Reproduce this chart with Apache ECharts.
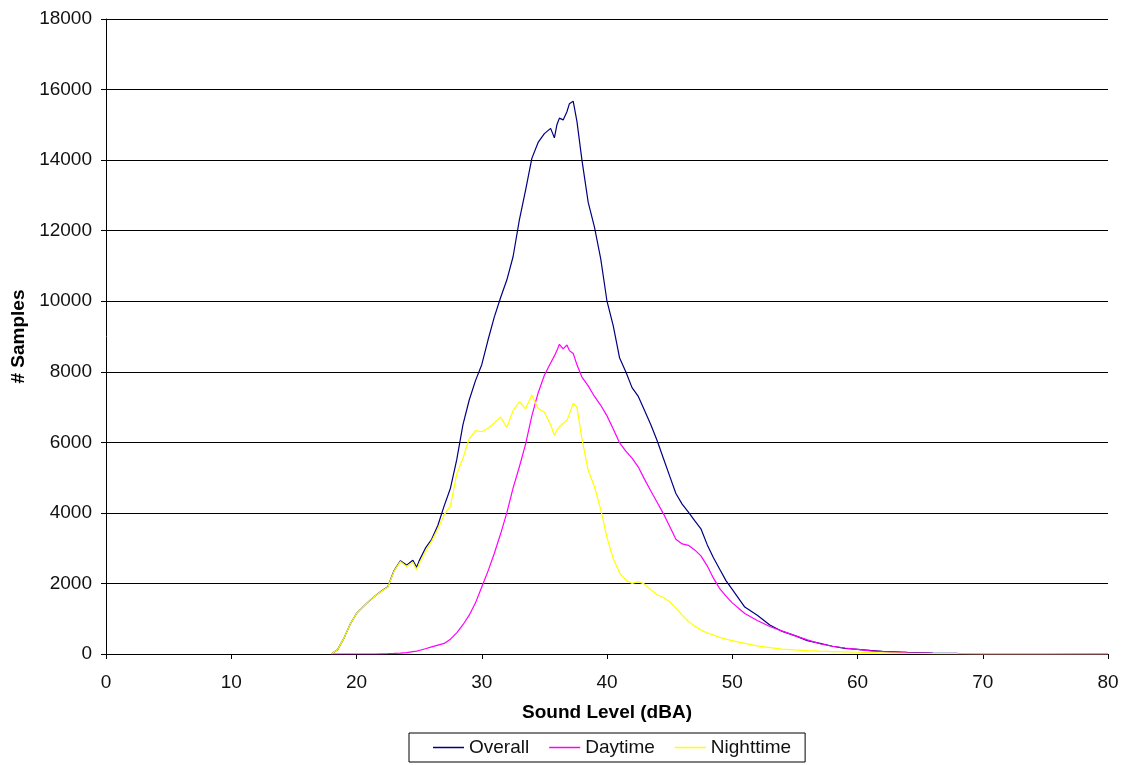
<!DOCTYPE html>
<html>
<head>
<meta charset="utf-8">
<script src="https://cdn.jsdelivr.net/npm/echarts@6/dist/echarts.min.js"></script>
<style>
html,body{margin:0;padding:0;background:#fff;}
#chart{width:1124px;height:765px;}
</style>
</head>
<body>
<div id="chart"></div>
<script>
const levels = [18,18.5,19,19.5,20,20.5,21,21.5,22,22.5,23,23.5,24,24.5,24.8,25,25.5,26,26.5,27,27.5,28,28.5,29,29.5,30,30.5,31,31.5,32,32.5,33,33.5,34,34.5,35,35.5,35.8,36,36.2,36.5,36.8,37,37.3,37.6,38,38.5,39,39.5,40,40.5,41,41.5,42,42.5,43,43.5,44,44.5,45,45.5,46,46.5,47,47.5,48,48.5,49,49.5,50,51,52,53,54,55,56,57,58,59,60,61,62,64,66,68,70,75,80];

const overall = [0,130,450,850,1150,1330,1500,1650,1785,1905,2365,2640,2520,2660,2460,2640,3000,3250,3650,4200,4700,5500,6500,7200,7750,8200,8900,9550,10100,10600,11260,12300,13150,14050,14500,14750,14900,14630,15000,15190,15140,15370,15600,15670,15100,14000,12800,12100,11200,10000,9300,8400,8000,7550,7300,6900,6500,6050,5550,5050,4550,4250,4020,3780,3550,3100,2730,2400,2080,1830,1330,1100,820,640,520,380,300,220,160,130,100,75,45,28,15,8,3,0];

const daytime = [0,0,0,0,0,0,0,0,5,8,15,25,40,65,80,100,150,200,250,300,420,600,830,1100,1450,1900,2350,2850,3400,4000,4700,5300,5950,6750,7400,7900,8250,8450,8600,8780,8650,8760,8600,8520,8200,7850,7600,7300,7050,6750,6380,5990,5750,5550,5300,4950,4620,4300,3980,3620,3250,3120,3080,2950,2780,2500,2150,1850,1640,1450,1150,950,780,650,520,400,290,220,170,130,90,65,35,20,10,5,2,0];

const nighttime = [0,130,450,850,1150,1330,1500,1650,1780,1900,2350,2620,2480,2600,2380,2550,2900,3200,3550,3950,4200,5100,5550,6100,6330,6300,6400,6550,6720,6420,6900,7150,6950,7340,6960,6850,6500,6200,6350,6440,6540,6630,6800,7110,7000,6100,5200,4740,4100,3300,2700,2300,2100,2000,2050,1980,1820,1680,1600,1480,1300,1100,920,790,680,600,540,470,420,380,300,230,180,140,115,95,80,70,60,50,40,30,20,12,8,5,2,0];

const seriesNames = ['Overall','Daytime','Nighttime'];
const seriesColors = ['#000080','#FF00FF','#FFFF00'];
const yTicks = {min:0,max:18000,interval:2000};
const xTicks = {min:0,max:80,interval:10};

function pairs(vals){ return levels.map((x,i)=>[x,vals[i]]); }

const font = 'Liberation Sans, Arial, sans-serif';
const chart = echarts.init(document.getElementById('chart'), null, {renderer:'canvas'});
chart.setOption({
  animation:false,
  backgroundColor:'#fff',
  grid:{left:106,right:16,top:19,bottom:111,containLabel:false,outerBoundsMode:'none'},
  legend:{
    left:409, top:733,
    padding:[5,14,5,24],
    itemGap:20, itemWidth:31, itemHeight:1.5,
    icon:'rect',
    borderColor:'#000', borderWidth:1, backgroundColor:'#fff',
    textStyle:{fontFamily:font,fontSize:19,color:'#111'},
    data:seriesNames
  },
  xAxis:{
    type:'value', min:xTicks.min, max:xTicks.max, interval:xTicks.interval,
    name:'Sound Level (dBA)', nameLocation:'middle', nameGap:49,
    nameTextStyle:{fontFamily:font,fontSize:19,fontWeight:'bold',color:'#000'},
    axisLine:{show:true,lineStyle:{color:'#000',width:1}},
    axisTick:{show:true,length:5,inside:false,lineStyle:{color:'#000'}},
    axisLabel:{fontFamily:font,fontSize:19,color:'#111',margin:19},
    splitLine:{show:false}
  },
  yAxis:{
    type:'value', min:yTicks.min, max:yTicks.max, interval:yTicks.interval,
    name:'# Samples', nameLocation:'middle', nameGap:75, nameRotate:90,
    nameTextStyle:{fontFamily:font,fontSize:19,fontWeight:'bold',color:'#000'},
    axisLine:{show:true,lineStyle:{color:'#000',width:1}},
    axisTick:{show:true,length:5,inside:false,lineStyle:{color:'#000'}},
    axisLabel:{fontFamily:font,fontSize:19,color:'#111',margin:14,formatter:v=>String(v)},
    splitLine:{show:true,lineStyle:{color:'#000',width:1}}
  },
  series:[
    {name:seriesNames[0],type:'line',symbol:'none',data:pairs(overall),lineStyle:{color:seriesColors[0],width:1.2},itemStyle:{color:seriesColors[0]}},
    {name:seriesNames[1],type:'line',symbol:'none',data:pairs(daytime),lineStyle:{color:seriesColors[1],width:1.2},itemStyle:{color:seriesColors[1]}},
    {name:seriesNames[2],type:'line',symbol:'none',data:pairs(nighttime),lineStyle:{color:seriesColors[2],width:1.2},itemStyle:{color:seriesColors[2]}}
  ]
});
</script>
</body>
</html>
